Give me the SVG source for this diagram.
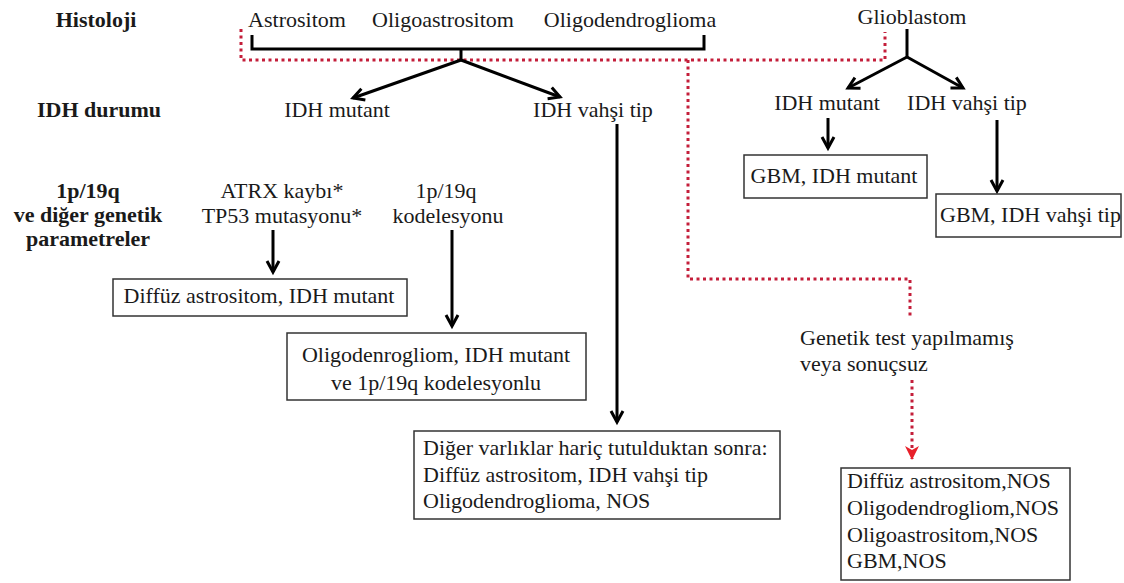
<svg xmlns="http://www.w3.org/2000/svg" width="1124" height="583" viewBox="0 0 1124 583">
<style>
text{font-family:"Liberation Serif","Times New Roman",serif;font-size:22px;fill:#1a1a1a}
.b{font-weight:bold}
.c{text-anchor:middle}
.box{fill:#fff;stroke:#333;stroke-width:1.5}
.ln{fill:none;stroke:#000;stroke-width:3}
.red{fill:none;stroke:#c41e3a;stroke-width:3;stroke-dasharray:3 3.5}
</style>
<defs>
<marker id="ah" markerUnits="userSpaceOnUse" markerWidth="16" markerHeight="16" refX="12" refY="8" orient="auto" viewBox="0 0 16 16">
<path d="M1,2 L12,8 L1,14" fill="none" stroke="#000" stroke-width="3"/>
</marker>
<marker id="ahr" markerUnits="userSpaceOnUse" markerWidth="18" markerHeight="18" refX="14" refY="9" orient="auto" viewBox="0 0 18 18">
<path d="M1,2 L15,9 L1,16 L5,9 Z" fill="#e8202a"/>
</marker>
</defs>
<rect width="1124" height="583" fill="#fff"/>

<g id="labels">
<text class="b c" x="96" y="27">Histoloji</text>
<text class="b c" x="99" y="117">IDH durumu</text>
<text class="b c" x="88" y="198">1p/19q</text>
<text class="b c" x="88" y="222">ve diğer genetik</text>
<text class="b c" x="88" y="246">parametreler</text>
</g>

<g id="connectors">
<path class="red" d="M241,29 V60 H885 V32"/>
<path class="red" d="M688,60 V279 H910 V317"/>
<path class="red" d="M912,380 V459" marker-end="url(#ahr)"/>
<path class="ln" d="M252,35 V49 H704 V35"/>
<path class="ln" d="M461,49 V60"/>
<path class="ln" d="M461,60 L353,98" marker-end="url(#ah)"/>
<path class="ln" d="M461,60 L560,97" marker-end="url(#ah)"/>
<path class="ln" d="M907,29 V57"/>
<path class="ln" d="M907,57 L848,88" marker-end="url(#ah)"/>
<path class="ln" d="M907,57 L963,88" marker-end="url(#ah)"/>
<path class="ln" d="M828,118 V148" marker-end="url(#ah)"/>
<path class="ln" d="M997,120 V191" marker-end="url(#ah)"/>
<path class="ln" d="M617,124 V422" marker-end="url(#ah)"/>
<path class="ln" d="M273,230 V272" marker-end="url(#ah)"/>
<path class="ln" d="M452,230 V326" marker-end="url(#ah)"/>
</g>

<g id="astrositom"><text class="c" x="297" y="27">Astrositom</text></g>
<g id="oligoastrositom"><text class="c" x="443" y="27">Oligoastrositom</text></g>
<g id="oligodendroglioma"><text class="c" x="630" y="27">Oligodendroglioma</text></g>
<g id="glioblastom"><text class="c" x="912" y="24">Glioblastom</text></g>

<g id="idh-mutant"><text class="c" x="337" y="117">IDH mutant</text></g>
<g id="idh-vahsi"><text class="c" x="593" y="117">IDH vahşi tip</text></g>
<g id="gbm-idh-mutant"><text class="c" x="827" y="110">IDH mutant</text></g>
<g id="gbm-idh-vahsi"><text class="c" x="967" y="110">IDH vahşi tip</text></g>

<g id="gbm-mutant-box">
<rect class="box" x="744" y="155" width="183" height="43"/>
<text class="c" x="834" y="183">GBM, IDH mutant</text>
</g>
<g id="gbm-vahsi-box">
<rect class="box" x="936" y="194" width="185" height="43"/>
<text x="940" y="222">GBM, IDH vahşi tip</text>
</g>

<g id="atrx">
<text class="c" x="282" y="198">ATRX kaybı*</text>
<text class="c" x="282" y="223">TP53 mutasyonu*</text>
</g>
<g id="kodelesyon">
<text class="c" x="446" y="198">1p/19q</text>
<text class="c" x="448" y="223">kodelesyonu</text>
</g>

<g id="diffuz-mutant-box">
<rect class="box" x="113" y="279" width="294" height="37"/>
<text class="c" x="259" y="303">Diffüz astrositom, IDH mutant</text>
</g>
<g id="oligo-box">
<rect class="box" x="287" y="333" width="299" height="67"/>
<text class="c" x="436" y="362">Oligodenrogliom, IDH mutant</text>
<text class="c" x="436" y="390">ve 1p/19q kodelesyonlu</text>
</g>
<g id="diger-box">
<rect class="box" x="414" y="431" width="366" height="88"/>
<text x="423" y="455">Diğer varlıklar hariç tutulduktan sonra:</text>
<text x="423" y="482">Diffüz astrositom, IDH vahşi tip</text>
<text x="423" y="508">Oligodendroglioma, NOS</text>
</g>
<g id="genetik">
<text x="800" y="345">Genetik test yapılmamış</text>
<text x="800" y="371">veya sonuçsuz</text>
</g>
<g id="nos-box">
<rect class="box" x="841" y="468" width="229" height="112"/>
<text x="847" y="488">Diffüz astrositom,NOS</text>
<text x="847" y="515">Oligodendrogliom,NOS</text>
<text x="847" y="542">Oligoastrositom,NOS</text>
<text x="847" y="568">GBM,NOS</text>
</g>
</svg>
